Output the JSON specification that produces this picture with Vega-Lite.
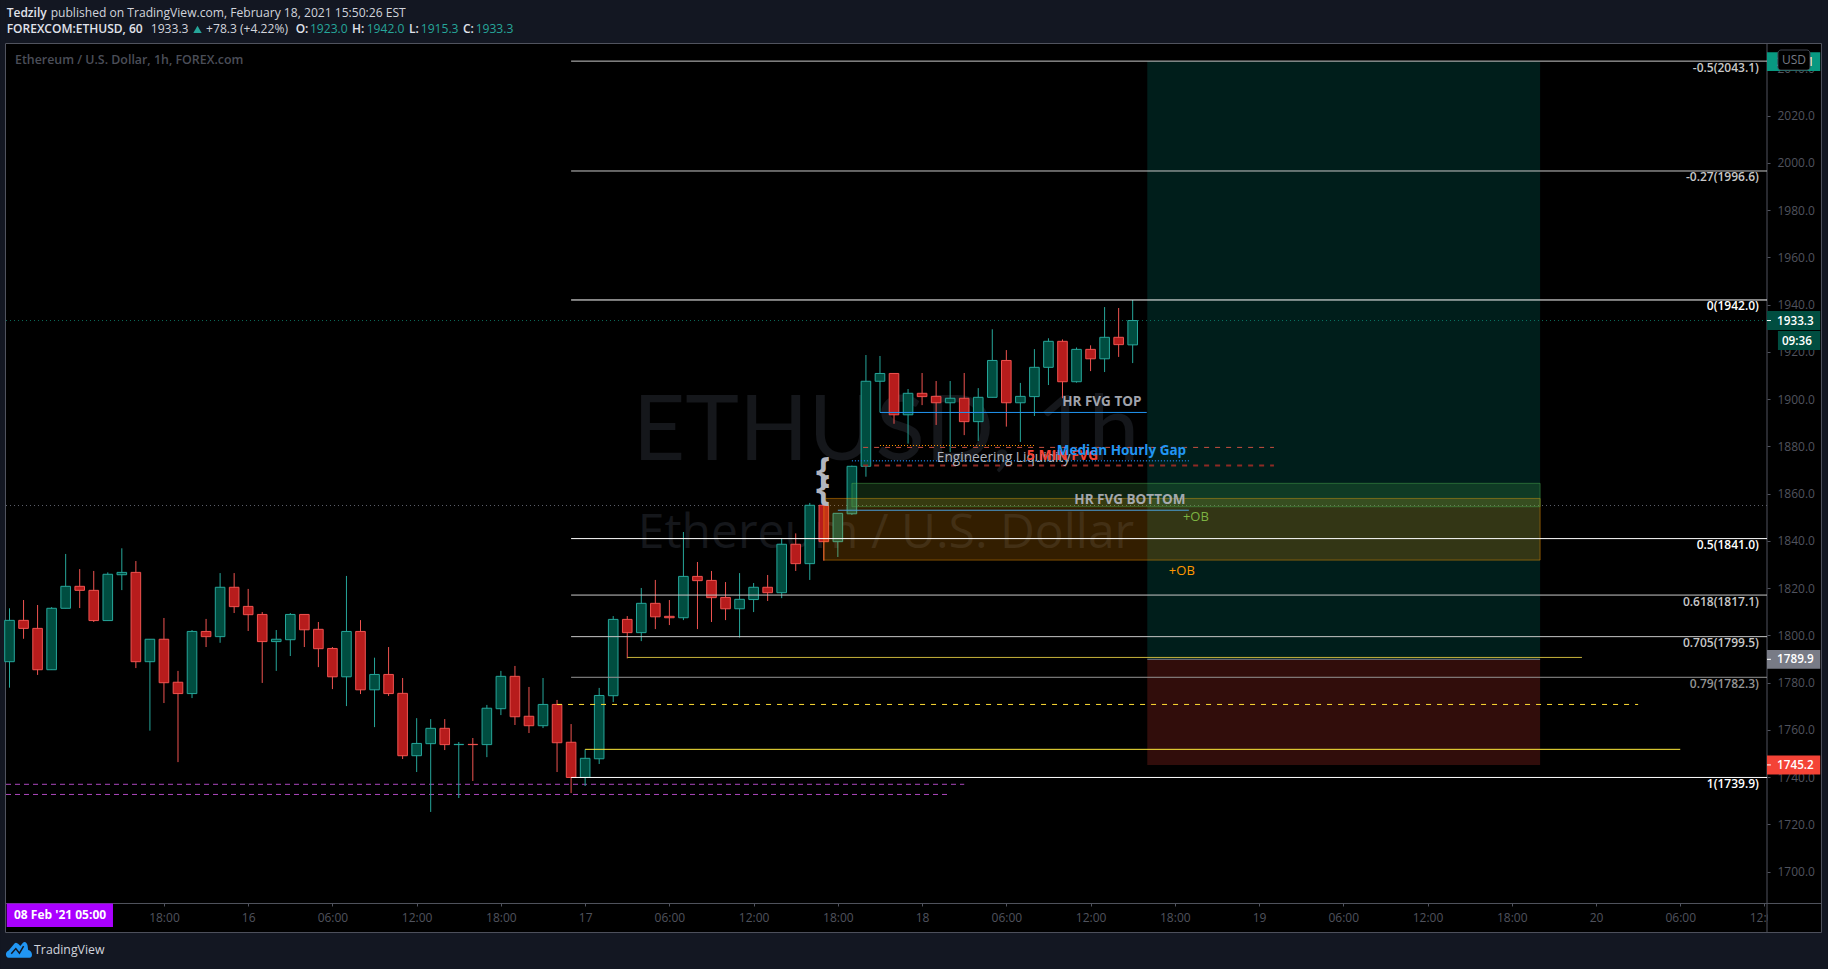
{"$schema":"https://vega.github.io/schema/vega-lite/v6.json","width":1761,"height":859,"autosize":{"type":"none"},"padding":{"left":6,"top":44,"right":61,"bottom":66},"background":"#000000","config":{"view":{"stroke":null,"fill":"#000000"},"text":{"font":"Open Sans"}},
"datasets":{"candles":[
{"bar":0,"open":1788.9,"high":1811.5,"low":1777.9,"close":1806.4},{"bar":1,"open":1806.4,"high":1815.0,"low":1798.6,"close":1803.0},{"bar":2,"open":1803.0,"high":1812.9,"low":1783.3,"close":1785.5},{"bar":3,"open":1785.5,"high":1812.0,"low":1785.5,"close":1811.5},{"bar":4,"open":1811.5,"high":1834.5,"low":1811.5,"close":1820.8},{"bar":5,"open":1820.8,"high":1828.1,"low":1811.6,"close":1819.1},{"bar":6,"open":1819.1,"high":1827.3,"low":1805.7,"close":1806.3},{"bar":7,"open":1806.3,"high":1826.7,"low":1806.3,"close":1825.9},{"bar":8,"open":1825.7,"high":1836.9,"low":1819.2,"close":1826.7},{"bar":9,"open":1826.7,"high":1831.5,"low":1786.2,"close":1788.9},
{"bar":10,"open":1788.9,"high":1798.4,"low":1759.7,"close":1798.4},{"bar":11,"open":1798.4,"high":1807.4,"low":1771.4,"close":1780.0},{"bar":12,"open":1780.2,"high":1785.0,"low":1746.4,"close":1775.4},{"bar":13,"open":1775.4,"high":1802.3,"low":1773.5,"close":1801.7},{"bar":14,"open":1801.7,"high":1807.0,"low":1795.1,"close":1799.5},{"bar":15,"open":1799.5,"high":1826.4,"low":1796.9,"close":1820.4},{"bar":16,"open":1820.4,"high":1826.4,"low":1809.5,"close":1812.2},{"bar":17,"open":1812.3,"high":1819.7,"low":1801.9,"close":1808.8},{"bar":18,"open":1808.9,"high":1809.9,"low":1779.9,"close":1797.4},{"bar":19,"open":1797.4,"high":1802.3,"low":1785.0,"close":1798.4},
{"bar":20,"open":1798.2,"high":1809.5,"low":1791.3,"close":1808.9},{"bar":21,"open":1808.9,"high":1808.9,"low":1795.1,"close":1802.4},{"bar":22,"open":1802.6,"high":1805.7,"low":1786.6,"close":1794.4},{"bar":23,"open":1794.5,"high":1795.1,"low":1777.3,"close":1782.5},{"bar":24,"open":1782.5,"high":1825.2,"low":1770.1,"close":1801.7},{"bar":25,"open":1801.7,"high":1806.5,"low":1775.2,"close":1777.0},{"bar":26,"open":1777.0,"high":1790.6,"low":1761.2,"close":1783.5},{"bar":27,"open":1783.5,"high":1795.1,"low":1774.4,"close":1775.4},{"bar":28,"open":1775.5,"high":1782.0,"low":1747.7,"close":1749.1},{"bar":29,"open":1749.1,"high":1765.0,"low":1742.2,"close":1754.3},
{"bar":30,"open":1754.2,"high":1764.6,"low":1725.3,"close":1760.7},{"bar":31,"open":1760.7,"high":1764.6,"low":1751.5,"close":1753.8},{"bar":32,"open":1753.8,"high":1754.9,"low":1731.2,"close":1753.9},{"bar":33,"open":1753.9,"high":1756.6,"low":1738.4,"close":1753.8},{"bar":34,"open":1753.8,"high":1770.6,"low":1748.5,"close":1769.2},{"bar":35,"open":1769.0,"high":1785.0,"low":1766.3,"close":1782.7},{"bar":36,"open":1782.7,"high":1787.1,"low":1762.1,"close":1765.6},{"bar":37,"open":1765.8,"high":1778.2,"low":1758.7,"close":1761.8},{"bar":38,"open":1761.8,"high":1782.0,"low":1760.8,"close":1770.8},{"bar":39,"open":1770.8,"high":1772.7,"low":1742.2,"close":1754.6},
{"bar":40,"open":1754.8,"high":1762.5,"low":1733.3,"close":1739.9},{"bar":41,"open":1739.9,"high":1751.8,"low":1736.3,"close":1748.0},{"bar":42,"open":1747.8,"high":1777.8,"low":1745.6,"close":1774.6},{"bar":43,"open":1774.5,"high":1808.2,"low":1771.8,"close":1806.8},{"bar":44,"open":1806.8,"high":1808.2,"low":1790.3,"close":1801.2},{"bar":45,"open":1801.2,"high":1820.1,"low":1797.6,"close":1813.6},{"bar":46,"open":1813.6,"high":1823.5,"low":1802.7,"close":1807.9},{"bar":47,"open":1808.1,"high":1815.0,"low":1804.4,"close":1807.5},{"bar":48,"open":1807.5,"high":1843.8,"low":1806.5,"close":1825.0},{"bar":49,"open":1825.0,"high":1831.1,"low":1802.7,"close":1823.2},
{"bar":50,"open":1823.3,"high":1827.3,"low":1805.7,"close":1816.0},{"bar":51,"open":1816.1,"high":1822.6,"low":1806.5,"close":1811.3},{"bar":52,"open":1811.3,"high":1826.4,"low":1799.1,"close":1815.3},{"bar":53,"open":1815.2,"high":1822.2,"low":1809.9,"close":1820.4},{"bar":54,"open":1820.4,"high":1825.6,"low":1814.6,"close":1818.1},{"bar":55,"open":1818.1,"high":1841.1,"low":1815.8,"close":1838.6},{"bar":56,"open":1838.6,"high":1843.2,"low":1827.3,"close":1830.4},{"bar":57,"open":1830.4,"high":1856.1,"low":1823.5,"close":1855.1},{"bar":58,"open":1855.1,"high":1855.1,"low":1831.6,"close":1839.7},{"bar":59,"open":1839.7,"high":1851.7,"low":1833.2,"close":1851.7},
{"bar":60,"open":1851.5,"high":1871.9,"low":1851.0,"close":1871.6},{"bar":61,"open":1871.6,"high":1918.7,"low":1867.2,"close":1907.6},{"bar":62,"open":1907.6,"high":1918.3,"low":1894.4,"close":1910.9},{"bar":63,"open":1910.9,"high":1910.9,"low":1889.6,"close":1893.4},{"bar":64,"open":1893.4,"high":1904.3,"low":1881.2,"close":1902.5},{"bar":65,"open":1902.5,"high":1911.1,"low":1897.5,"close":1901.1},{"bar":66,"open":1901.2,"high":1907.7,"low":1889.1,"close":1898.5},{"bar":67,"open":1898.5,"high":1907.7,"low":1877.6,"close":1900.4},{"bar":68,"open":1900.4,"high":1911.1,"low":1884.8,"close":1890.5},{"bar":69,"open":1890.5,"high":1904.7,"low":1882.3,"close":1900.8},
{"bar":70,"open":1900.8,"high":1929.6,"low":1900.8,"close":1916.4},{"bar":71,"open":1916.4,"high":1920.8,"low":1888.4,"close":1898.5},{"bar":72,"open":1898.5,"high":1906.9,"low":1881.9,"close":1901.2},{"bar":73,"open":1901.1,"high":1921.2,"low":1892.9,"close":1913.5},{"bar":74,"open":1913.5,"high":1925.8,"low":1906.0,"close":1924.5},{"bar":75,"open":1924.5,"high":1925.3,"low":1900.4,"close":1907.4},{"bar":76,"open":1907.4,"high":1921.9,"low":1907.0,"close":1921.1},{"bar":77,"open":1921.1,"high":1922.8,"low":1911.9,"close":1917.1},{"bar":78,"open":1917.1,"high":1939.0,"low":1911.5,"close":1926.2},{"bar":79,"open":1926.2,"high":1938.6,"low":1917.9,"close":1923.1},{"bar":80,"open":1923.0,"high":1942.0,"low":1915.3,"close":1933.3}
]},
"encoding":{
"x":{"field":"bar","type":"quantitative","title":null,"scale":{"domain":[-0.25,125.18],"nice":false,"zero":false,"padding":0},"axis":{"orient":"bottom","values":[11,17,23,29,35,41,47,53,59,65,71,77,83,89,95,101,107,113,119,125],"labelExpr":"(datum.value+7)%24==0 ? ''+(16+(datum.value-17)/24) : ((datum.value+7)%24<10?'0':'')+((datum.value+7)%24)+':00'","domain":false,"grid":false,"tickColor":"#50535e","tickSize":3,"labelColor":"#50535e","labelFont":"Open Sans","labelFontSize":12,"labelPadding":6,"labelOverlap":false,"labelBound":false,"labelFlush":false,"title":null}},
"y":{"field":"price","type":"quantitative","title":null,"scale":{"domain":[1686.76,2050.35],"nice":false,"zero":false,"padding":0},"axis":{"orient":"right","values":[1700,1720,1740,1760,1780,1800,1820,1840,1860,1880,1900,1920,1940,1960,1980,2000,2020,2040],"format":".1f","domain":false,"grid":false,"tickColor":"#50535e","tickSize":3,"labelColor":"#50535e","labelFont":"Open Sans","labelFontSize":12,"labelPadding":7,"labelOverlap":false,"labelBound":false,"labelFlush":false,"title":null}}
},
"layer":[
{"data":{"values":[{"bar":-0.677,"bar2":129.52,"price":2068.97,"price2":2050.77},{"bar":-0.677,"bar2":-0.32,"price":2068.97,"price2":1658.8},{"bar":129.03,"bar2":129.52,"price":2068.97,"price2":1658.8},{"bar":-0.677,"bar2":129.52,"price":1674.47,"price2":1658.8}]},"mark":{"type":"rect","color":"#131722"},"encoding":{"x2":{"field":"bar2"},"y2":{"field":"price2"}}},
{"data":{"values":[{"bar":125.23,"bar2":129.03,"price":1686.55,"price2":1674.9}]},"mark":{"type":"rect","color":"#000000"},"encoding":{"x2":{"field":"bar2"},"y2":{"field":"price2"}}},
{"data":{"values":[{"bar":-0.285,"bar2":129.06,"price":2050.56,"price2":1674.26}]},"mark":{"type":"rect","filled":false,"stroke":"#50535e","strokeWidth":1},"encoding":{"x2":{"field":"bar2"},"y2":{"field":"price2"}}},
{"data":{"values":[{"bar":-0.25,"bar2":129.06,"price":1686.55,"price2":1686.55}]},"mark":{"type":"rule","color":"#50535e","strokeWidth":1},"encoding":{"x2":{"field":"bar2"}}},
{"data":{"values":[{"bar":125.18,"price":2050.35,"price2":1674.26}]},"mark":{"type":"rule","color":"#50535e","strokeWidth":1},"encoding":{"y2":{"field":"price2"}}},
{"data":{"values":[{"bar":62.43,"price":1874.26,"label":"ETHUSD, 1h"}]},"mark":{"type":"text","font":"Lato","fontSize":91,"align":"center","baseline":"alphabetic","color":"#15171b"},"encoding":{"text":{"field":"label"}}},
{"data":{"values":[{"bar":62.43,"price":1837.0,"label":"Ethereum / U.S. Dollar"}]},"mark":{"type":"text","fontSize":48,"align":"center","baseline":"alphabetic","color":"#15171b"},"encoding":{"text":{"field":"label"}}},
{"data":{"values":[{"bar":-0.25,"bar2":125.18,"price":1855.0}]},"mark":{"type":"rule","color":"#5d606b","strokeDash":[1,3],"strokeWidth":1},"encoding":{"x2":{"field":"bar2"}}},
{"data":{"values":[{"bar":-0.25,"bar2":125.18,"price":1933.3}]},"mark":{"type":"rule","color":"#0b6b5a","strokeDash":[1,3],"strokeWidth":1},"encoding":{"x2":{"field":"bar2"}}},
{"data":{"values":[{"bar":-0.25,"bar2":68,"price":1737.0},{"bar":-0.25,"bar2":67,"price":1732.7}]},"mark":{"type":"rule","color":"#ab47bc","strokeDash":[5,4],"strokeWidth":1},"encoding":{"x2":{"field":"bar2"}}},
{"data":{"name":"candles"},"mark":{"type":"rule","strokeWidth":1},"encoding":{"y":{"field":"low","type":"quantitative","title":null,"axis":{"orient":"right","values":[1700,1720,1740,1760,1780,1800,1820,1840,1860,1880,1900,1920,1940,1960,1980,2000,2020,2040],"format":".1f","domain":false,"grid":false,"tickColor":"#50535e","tickSize":3,"labelColor":"#50535e","labelFont":"Open Sans","labelFontSize":12,"labelPadding":7,"labelOverlap":false,"labelBound":false,"labelFlush":false,"title":null},"scale":{"domain":[1686.76,2050.35],"nice":false,"zero":false,"padding":0}},"y2":{"field":"high"},"color":{"condition":{"test":"datum.close>=datum.open","value":"#26a69a"},"value":"#ef5350"}}},
{"data":{"name":"candles"},"mark":{"type":"bar","size":9.6,"orient":"vertical","strokeWidth":1},"encoding":{"y":{"field":"open","type":"quantitative","title":null,"axis":{"orient":"right","values":[1700,1720,1740,1760,1780,1800,1820,1840,1860,1880,1900,1920,1940,1960,1980,2000,2020,2040],"format":".1f","domain":false,"grid":false,"tickColor":"#50535e","tickSize":3,"labelColor":"#50535e","labelFont":"Open Sans","labelFontSize":12,"labelPadding":7,"labelOverlap":false,"labelBound":false,"labelFlush":false,"title":null},"scale":{"domain":[1686.76,2050.35],"nice":false,"zero":false,"padding":0}},"y2":{"field":"close"},"fill":{"condition":{"test":"datum.close>=datum.open","value":"#004d40"},"value":"#b71c1c"},"stroke":{"condition":{"test":"datum.close>=datum.open","value":"#26a69a"},"value":"#ef5350"}}},
{"data":{"values":[{"kind":"target","bar":81.04,"bar2":109.02,"price":2043.1,"price2":1789.9},{"kind":"stop","bar":81.04,"bar2":109.02,"price":1789.9,"price2":1745.2},{"kind":"orderblock","bar":58,"bar2":109.02,"price":1858,"price2":1831.9},{"kind":"gap","bar":60,"bar2":109.02,"price":1864.4,"price2":1854.5}]},"mark":{"type":"rect","fillOpacity":0.2,"strokeOpacity":0.45,"strokeWidth":1},"encoding":{"x2":{"field":"bar2"},"y2":{"field":"price2"},"fill":{"field":"kind","type":"nominal","legend":null,"scale":{"domain":["target","stop","orderblock","gap"],"range":["#009688","#f44336","#ff9800","#4caf50"]}},"stroke":{"field":"kind","type":"nominal","legend":null,"scale":{"domain":["target","stop","orderblock","gap"],"range":["transparent","transparent","#ff9800","#4caf50"]}}}},
{"data":{"values":[{"level":"bright","bar":40,"bar2":125.18,"price":1942.0},{"level":"bright","bar":40,"bar2":125.18,"price":1841.0},{"level":"bright","bar":40,"bar2":125.18,"price":1739.9},{"level":"mid","bar":40,"bar2":125.18,"price":2043.1},{"level":"mid","bar":40,"bar2":125.18,"price":1996.6},{"level":"mid","bar":40,"bar2":125.18,"price":1817.1},{"level":"mid","bar":40,"bar2":125.18,"price":1799.5},{"level":"dim","bar":40,"bar2":125.18,"price":1782.3}]},"mark":{"type":"rule","strokeWidth":1},"encoding":{"x2":{"field":"bar2"},"color":{"field":"level","type":"nominal","legend":null,"scale":{"domain":["bright","mid","dim"],"range":["#ffffff","#c8c8c8","#949494"]}}}},
{"data":{"values":[{"level":"bright","bar":124.6,"price":1942.0,"label":"0(1942.0)"},{"level":"bright","bar":124.6,"price":1841.0,"label":"0.5(1841.0)"},{"level":"bright","bar":124.6,"price":1739.9,"label":"1(1739.9)"},{"level":"mid","bar":124.6,"price":2043.1,"label":"-0.5(2043.1)"},{"level":"mid","bar":124.6,"price":1996.6,"label":"-0.27(1996.6)"},{"level":"mid","bar":124.6,"price":1817.1,"label":"0.618(1817.1)"},{"level":"mid","bar":124.6,"price":1799.5,"label":"0.705(1799.5)"},{"level":"dim","bar":124.6,"price":1782.3,"label":"0.79(1782.3)"}]},"mark":{"type":"text","align":"right","baseline":"middle","dy":6.5,"fontSize":12,"fontWeight":600},"encoding":{"text":{"field":"label"},"color":{"field":"level","type":"nominal","legend":null,"scale":{"domain":["bright","mid","dim"],"range":["#ffffff","#c8c8c8","#949494"]}}}},
{"data":{"values":[{"bar":44,"bar2":112,"price":1790.7}]},"mark":{"type":"rule","color":"#c8b43c","strokeWidth":1},"encoding":{"x2":{"field":"bar2"}}},
{"data":{"values":[{"bar":81.04,"bar2":109.02,"price":1789.9}]},"mark":{"type":"rule","color":"#787b86","strokeWidth":1},"encoding":{"x2":{"field":"bar2"}}},
{"data":{"values":[{"bar":39,"bar2":116,"price":1770.8}]},"mark":{"type":"rule","color":"#ffdd33","strokeDash":[5,6],"strokeWidth":1},"encoding":{"x2":{"field":"bar2"}}},
{"data":{"values":[{"bar":41,"bar2":119,"price":1751.8}]},"mark":{"type":"rule","color":"#ffeb3b","strokeWidth":1},"encoding":{"x2":{"field":"bar2"}}},
{"data":{"values":[{"bar":62,"bar2":81,"price":1894.4}]},"mark":{"type":"rule","color":"#2196f3","strokeWidth":1},"encoding":{"x2":{"field":"bar2"}}},
{"data":{"values":[{"bar":59,"bar2":84,"price":1853.0}]},"mark":{"type":"rule","color":"#4a9fd8","strokeWidth":1},"encoding":{"x2":{"field":"bar2"}}},
{"data":{"values":[{"bar":60.8,"bar2":90.06,"price":1879.6}]},"mark":{"type":"rule","color":"#c85040","strokeDash":[5,6],"strokeWidth":1},"encoding":{"x2":{"field":"bar2"}}},
{"data":{"values":[{"bar":60.8,"bar2":90.06,"price":1871.9}]},"mark":{"type":"rule","color":"#8e2a24","strokeDash":[5,6],"strokeWidth":2},"encoding":{"x2":{"field":"bar2"}}},
{"data":{"values":[{"bar":60,"bar2":84,"price":1873.9}]},"mark":{"type":"rule","color":"#1976d2","strokeDash":[1,2],"strokeWidth":1.5},"encoding":{"x2":{"field":"bar2"}}},
{"data":{"values":[{"bar":62,"bar2":73,"price":1880.4}]},"mark":{"type":"rule","color":"#ff9800","strokeDash":[1,2],"strokeWidth":1},"encoding":{"x2":{"field":"bar2"}}},
{"data":{"values":[{"bar":57.94,"price":1869.3,"label":"{"},{"bar":57.94,"price":1861.6,"label":"{"}]},"mark":{"type":"text","fontSize":36,"fontWeight":700,"align":"center","baseline":"middle","color":"#b2b5be"},"encoding":{"text":{"field":"label"}}},
{"data":{"values":[{"bar":77.8,"price":1898.9,"label":"HR FVG TOP"},{"bar":79.8,"price":1857.2,"label":"HR FVG BOTTOM"}]},"mark":{"type":"text","fontSize":13.5,"fontWeight":700,"align":"center","baseline":"middle","color":"#b2b5be","opacity":0.9},"encoding":{"text":{"field":"label"}}},
{"data":{"values":[{"bar":70.8,"price":1875.2,"label":"Engineering Liquidity"}]},"mark":{"type":"text","fontSize":13.7,"align":"center","baseline":"middle","color":"#b2b5be"},"encoding":{"text":{"field":"label"}}},
{"data":{"values":[{"bar":75.0,"price":1876.0,"label":"5 MIN FVG"}]},"mark":{"type":"text","fontSize":14,"fontWeight":700,"align":"center","baseline":"middle","color":"#f44336"},"encoding":{"text":{"field":"label"}}},
{"data":{"values":[{"bar":79.2,"price":1878.2,"label":"Median Hourly Gap"}]},"mark":{"type":"text","fontSize":13.5,"fontWeight":700,"align":"center","baseline":"middle","color":"#2196f3"},"encoding":{"text":{"field":"label"}}},
{"data":{"values":[{"bar":84.5,"price":1850.1,"label":"+OB"}]},"mark":{"type":"text","fontSize":13,"align":"center","baseline":"middle","color":"#7cb342"},"encoding":{"text":{"field":"label"}}},
{"data":{"values":[{"bar":83.5,"price":1827.3,"label":"+OB"}]},"mark":{"type":"text","fontSize":13,"align":"center","baseline":"middle","color":"#ff9800"},"encoding":{"text":{"field":"label"}}},
{"data":{"values":[{"kind":"target","bar":125.18,"bar2":128.97,"price":2046.9,"price2":2038.9},{"kind":"last","bar":125.18,"bar2":128.97,"price":1937.3,"price2":1929.3},{"kind":"last","bar":125.96,"bar2":128.97,"price":1928.9,"price2":1920.8},{"kind":"entry","bar":125.18,"bar2":128.97,"price":1793.9,"price2":1785.9},{"kind":"stop","bar":125.18,"bar2":128.97,"price":1749.2,"price2":1741.2}]},"mark":{"type":"rect"},"encoding":{"x2":{"field":"bar2"},"y2":{"field":"price2"},"fill":{"field":"kind","type":"nominal","legend":null,"scale":{"domain":["target","stop","orderblock","gap","last","entry"],"range":["#089981","#f44336","#ff9800","#4caf50","#004d40","#787b86"]}}}},
{"data":{"values":[{"bar":125.18,"bar2":125.46,"price":1933.3},{"bar":125.18,"bar2":125.46,"price":1789.9},{"bar":125.18,"bar2":125.46,"price":1745.2}]},"mark":{"type":"rule","color":"#ffffff","strokeWidth":1},"encoding":{"x2":{"field":"bar2"}}},
{"data":{"values":[{"bar":125.9,"price":2042.9,"label":"2043.1"},{"bar":125.9,"price":1933.3,"label":"1933.3"},{"bar":126.24,"price":1924.8,"label":"09:36"},{"bar":125.9,"price":1789.9,"label":"1789.9"},{"bar":125.9,"price":1745.2,"label":"1745.2"}]},"mark":{"type":"text","fontSize":11.7,"fontWeight":600,"align":"left","baseline":"middle","color":"#ffffff"},"encoding":{"text":{"field":"label"}}},
{"data":{"values":[{"bar":125.96,"bar2":128.24,"price":2047.8,"price2":2039.3}]},"mark":{"type":"rect","color":"#000000","stroke":"#434651","cornerRadius":3,"strokeWidth":1},"encoding":{"x2":{"field":"bar2"},"y2":{"field":"price2"}}},
{"data":{"values":[{"bar":127.1,"price":2043.5,"label":"USD"}]},"mark":{"type":"text","fontSize":12,"align":"center","baseline":"middle","color":"#787b86"},"encoding":{"text":{"field":"label"}}},
{"data":{"values":[{"bar":-0.2,"bar2":7.37,"price":1686.5,"price2":1676.6}]},"mark":{"type":"rect","color":"#aa00ff"},"encoding":{"x2":{"field":"bar2"},"y2":{"field":"price2"}}},
{"data":{"values":[{"bar":3.6,"price":1681.5,"label":"08 Feb '21   05:00"}]},"mark":{"type":"text","fontSize":12,"fontWeight":700,"align":"center","baseline":"middle","color":"#ffffff"},"encoding":{"text":{"field":"label"}}},
{"data":{"values":[{"bar":0.39,"price":2043.6,"label":"Ethereum / U.S. Dollar, 1h, FOREX.com"}]},"mark":{"type":"text","fontSize":12.4,"fontWeight":600,"align":"left","baseline":"middle","color":"#4b4e58"},"encoding":{"text":{"field":"label"}}},
{"data":{"values":[{"bar":-0.2,"price":2063.47,"label":"Tedzily"},{"bar":-0.2,"price":2056.49,"label":"FOREXCOM:ETHUSD, 60"},{"bar":20.38,"price":2056.49,"label":"O:"},{"bar":24.39,"price":2056.49,"label":"H:"},{"bar":28.45,"price":2056.49,"label":"L:"},{"bar":32.3,"price":2056.49,"label":"C:"}]},"mark":{"type":"text","fontSize":12,"fontWeight":600,"align":"left","baseline":"middle","color":"#e0e3eb"},"encoding":{"text":{"field":"label"}}},
{"data":{"values":[{"bar":2.93,"price":2063.47,"label":"published on TradingView.com, February 18, 2021 15:50:26 EST"},{"bar":10.06,"price":2056.49,"label":"1933.3"},{"bar":14.0,"price":2056.49,"label":"+78.3 (+4.22%)"}]},"mark":{"type":"text","fontSize":12.1,"align":"left","baseline":"middle","color":"#d1d4dc"},"encoding":{"text":{"field":"label"}}},
{"data":{"values":[{"bar":21.4,"price":2056.49,"label":"1923.0"},{"bar":25.44,"price":2056.49,"label":"1942.0"},{"bar":29.29,"price":2056.49,"label":"1915.3"},{"bar":33.2,"price":2056.49,"label":"1933.3"}]},"mark":{"type":"text","fontSize":12.1,"align":"left","baseline":"middle","color":"#26a69a"},"encoding":{"text":{"field":"label"}}},
{"data":{"values":[{"bar":13.39,"price":2056.49}]},"mark":{"type":"point","shape":"triangle-up","filled":true,"size":70,"color":"#26a69a","opacity":1}},
{"data":{"values":[{"bar":0.68,"price":1666.9}]},"mark":{"type":"point","shape":"M-0.8,0.6 C-1.05,0.6 -1.1,0.15 -0.8,0.05 L-0.35,-0.5 C-0.25,-0.6 -0.15,-0.55 -0.05,-0.45 L0.1,-0.3 L0.3,-0.55 C0.45,-0.7 0.6,-0.55 0.65,-0.35 L0.7,0 C1.05,0.05 1.1,0.6 0.8,0.6 Z","filled":true,"size":676,"color":"#2196f3","opacity":1}},
{"data":{"values":[{"bar":0.68,"price":1666.9}]},"mark":{"type":"point","shape":"M-0.6,0.3 L-0.25,-0.1 L0.03,0.25 L0.35,-0.3","filled":false,"size":676,"color":"#131722","strokeWidth":1.5,"opacity":1}},
{"data":{"values":[{"bar":1.75,"price":1666.9,"label":"TradingView"}]},"mark":{"type":"text","fontSize":12.3,"align":"left","baseline":"middle","color":"#d1d4dc"},"encoding":{"text":{"field":"label"}}}
],
"resolve":{"scale":{"fill":"independent","stroke":"independent"}}
}
